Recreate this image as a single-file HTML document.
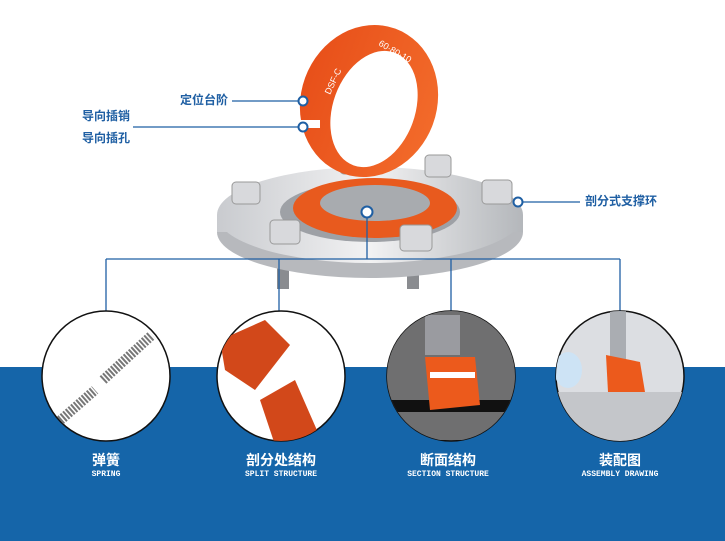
<!DOCTYPE html>
<html><head><meta charset="utf-8"><style>
html,body{margin:0;padding:0;width:725px;height:541px;overflow:hidden;background:#fff;font-family:"Liberation Sans","Noto Sans CJK SC",sans-serif}
.t{position:absolute;color:#1f5fa3;font-size:12px;font-weight:bold;line-height:14px;white-space:nowrap}
.c{position:absolute;color:#fff;font-size:14px;font-weight:bold;text-align:center;width:200px;line-height:16px}
.e{position:absolute;color:#fff;font-size:8px;font-family:"Liberation Mono",monospace;font-weight:bold;text-align:center;width:200px;letter-spacing:0}
</style></head><body>
<div style="position:absolute;left:0;top:367px;width:725px;height:174px;background:#1565a9"></div>
<svg width="725" height="541" style="position:absolute;left:0;top:0">
<defs>
<linearGradient id="m" x1="0" x2="1"><stop offset="0" stop-color="#c9cbcf"/><stop offset=".5" stop-color="#f2f2f3"/><stop offset="1" stop-color="#b4b7bb"/></linearGradient>
<linearGradient id="o" x1="0" x2="1"><stop offset="0" stop-color="#e8501a"/><stop offset="1" stop-color="#f26a2a"/></linearGradient>
<clipPath id="c1"><ellipse cx="106" cy="376" rx="64" ry="65"/></clipPath>
<clipPath id="c2"><ellipse cx="281" cy="376" rx="64" ry="65"/></clipPath>
<clipPath id="c3"><ellipse cx="451" cy="376" rx="64" ry="65"/></clipPath>
<clipPath id="c4"><ellipse cx="620" cy="376" rx="64" ry="65"/></clipPath>
</defs>
<rect x="277" y="265" width="12" height="24" fill="#8a8c90"/>
<rect x="407" y="265" width="12" height="24" fill="#8a8c90"/>
<ellipse cx="370" cy="232" rx="153" ry="46" fill="#b7b9bd"/>
<rect x="217" y="215" width="306" height="17" fill="url(#m)"/>
<ellipse cx="370" cy="215" rx="153" ry="48" fill="url(#m)"/>
<ellipse cx="370" cy="212" rx="90" ry="30" fill="#9ea1a6"/>
<ellipse cx="375" cy="208" rx="82" ry="30" fill="#e85a1e"/>
<ellipse cx="375" cy="203" rx="55" ry="18" fill="#a8abaf"/>
<g fill="#d8d9dc" stroke="#999" stroke-width="1">
<rect x="232" y="182" width="28" height="22" rx="4"/>
<rect x="270" y="220" width="30" height="24" rx="4"/>
<rect x="340" y="154" width="26" height="20" rx="4"/>
<rect x="425" y="155" width="26" height="22" rx="4"/>
<rect x="482" y="180" width="30" height="24" rx="4"/>
<rect x="400" y="225" width="32" height="26" rx="4"/>
</g>
<ellipse cx="369" cy="101" rx="68" ry="77" transform="rotate(20 369 101)" fill="url(#o)"/>
<ellipse cx="374" cy="109" rx="41" ry="60" transform="rotate(20 374 109)" fill="#fff"/>
<rect x="298" y="120" width="22" height="8" fill="#fff"/>
<text x="378" y="45" fill="#fff" font-size="9" transform="rotate(30 378 45)">60·80·10</text>
<text x="330" y="95" fill="#fff" font-size="9" transform="rotate(-65 330 95)">DSF-C</text>
<g stroke="#1f5fa3" stroke-width="1.3" fill="none">
<line x1="232" y1="101" x2="303" y2="101"/>
<line x1="133" y1="127" x2="303" y2="127"/>
<line x1="522" y1="202" x2="580" y2="202"/>
<line x1="367" y1="212" x2="367" y2="259"/>
<line x1="106" y1="259" x2="620" y2="259"/>
<line x1="106" y1="259" x2="106" y2="311"/>
<line x1="279" y1="259" x2="279" y2="311"/>
<line x1="451" y1="259" x2="451" y2="311"/>
<line x1="620" y1="259" x2="620" y2="311"/>
</g>
<g fill="#fff" stroke="#1f5fa3" stroke-width="2">
<circle cx="303" cy="101" r="4.5"/><circle cx="303" cy="127" r="4.5"/>
<circle cx="367" cy="212" r="5.5"/><circle cx="518" cy="202" r="4.5"/>
</g>
<g stroke="#111" stroke-width="1.5">
<ellipse cx="106" cy="376" rx="64" ry="65" fill="#fff"/>
<ellipse cx="281" cy="376" rx="64" ry="65" fill="#fff"/>
<ellipse cx="451" cy="376" rx="64" ry="65" fill="#777"/>
<ellipse cx="620" cy="376" rx="64" ry="65" fill="#dcdee2"/>
</g>
<g clip-path="url(#c1)" stroke="#777" stroke-width="10" stroke-dasharray="2 1.5">
<line x1="103" y1="380" x2="152" y2="335"/><line x1="55" y1="425" x2="95" y2="390"/>
</g>
<g clip-path="url(#c2)" fill="#d2481a">
<polygon points="220,340 265,320 290,345 255,390 225,370"/>
<polygon points="260,400 295,380 330,460 280,460"/>
</g>
<g clip-path="url(#c3)">
<rect x="385" y="310" width="130" height="130" fill="#6f6f70"/>
<rect x="425" y="315" width="35" height="40" fill="#9a9ba0"/>
<rect x="386" y="400" width="130" height="12" fill="#111"/>
<polygon points="425,357 475,357 480,405 430,410" fill="#ec5a1c"/>
<rect x="430" y="372" width="45" height="6" fill="#fff"/>
</g>
<g clip-path="url(#c4)">
<rect x="556" y="392" width="130" height="50" fill="#c4c6ca"/>
<rect x="610" y="310" width="16" height="60" fill="#aaadb2"/>
<polygon points="606,355 640,362 645,392 608,392" fill="#ec5a1c"/>
<ellipse cx="568" cy="370" rx="14" ry="18" fill="#cde3f5"/>
</g>
</svg>
<div class="t" style="left:180px;top:93px">定位台阶</div>
<div class="t" style="left:82px;top:109px">导向插销</div>
<div class="t" style="left:82px;top:131px">导向插孔</div>
<div class="t" style="left:585px;top:194px">剖分式支撑环</div>
<div class="c" style="left:6px;top:452px">弹簧</div>
<div class="e" style="left:6px;top:470px">SPRING</div>
<div class="c" style="left:181px;top:452px">剖分处结构</div>
<div class="e" style="left:181px;top:470px">SPLIT STRUCTURE</div>
<div class="c" style="left:348px;top:452px">断面结构</div>
<div class="e" style="left:348px;top:470px">SECTION STRUCTURE</div>
<div class="c" style="left:520px;top:452px">装配图</div>
<div class="e" style="left:520px;top:470px">ASSEMBLY DRAWING</div>
</body></html>
